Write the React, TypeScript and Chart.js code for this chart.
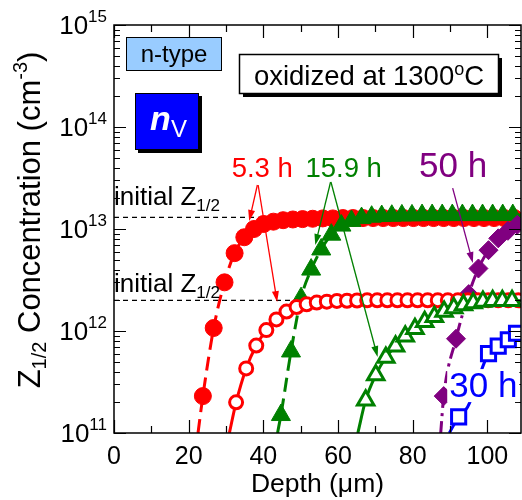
import React, { useEffect, useRef } from "react";
import { Chart, registerables } from "chart.js";

Chart.register(...registerables);

const FONT = '"Liberation Sans", Arial, Helvetica, sans-serif';

// Axis ranges and ticks
const DEPTH_MIN = 0;
const DEPTH_MAX = 109;
const CONC_MIN = 1e11;
const CONC_MAX = 1e15;
const xMajorTicks = [0, 20, 40, 60, 80, 100];
const xMinorTicks = [10, 30, 50, 70, 90];
const yDecadeExponents = [11, 12, 13, 14, 15];

// Initial Z1/2 levels of the two samples
const initialHighConc = 1.3e13;
const initialLowConc = 2.0e12;
const initialHighDepth = [0, 40];
const initialLowDepth = [0, 48];

// 5.3 h, high initial concentration (filled circles)
const h53HighDepth = [23.8, 26.7, 29.6, 32.3, 34.9, 37.5, 40.1, 42.7, 45.3, 47.9, 50.5, 53.2, 55.9, 58.6, 61.3, 64.0, 66.7, 69.4, 72.1, 74.8, 77.5, 80.2, 82.9, 85.6, 88.3, 91.0, 93.7, 96.4, 99.1, 101.8, 104.5, 107.2];
const h53HighConc = [2.3e11, 1.07e12, 3.0e12, 5.8e12, 8.3e12, 1.0e13, 1.12e13, 1.18e13, 1.22e13, 1.24e13, 1.25e13, 1.26e13, 1.27e13, 1.27e13, 1.28e13, 1.28e13, 1.28e13, 1.28e13, 1.28e13, 1.28e13, 1.28e13, 1.28e13, 1.28e13, 1.28e13, 1.28e13, 1.28e13, 1.28e13, 1.28e13, 1.28e13, 1.28e13, 1.28e13, 1.28e13];
const h53HighFitDepth = [22.5, 23.8, 26.7, 29.6, 32.3, 34.9, 37.5, 40.1, 42.7, 45.3, 50.0, 60.0, 80.0, 109.0];
const h53HighFitConc = [1e11, 2.3e11, 1.07e12, 3.0e12, 5.8e12, 8.3e12, 1.0e13, 1.12e13, 1.18e13, 1.22e13, 1.25e13, 1.27e13, 1.28e13, 1.28e13];

// 5.3 h, low initial concentration (open circles)
const h53LowDepth = [32.7, 35.4, 38.1, 40.8, 43.5, 46.2, 48.9, 51.6, 54.3, 57.0, 59.7, 62.4, 65.1, 67.8, 70.5, 73.2, 75.9, 78.6, 81.3, 84.0, 86.7, 89.4, 92.1, 94.8, 97.5, 100.2, 102.9, 105.6, 108.3];
const h53LowConc = [2.0e11, 4.3e11, 7.2e11, 1.02e12, 1.3e12, 1.55e12, 1.72e12, 1.83e12, 1.9e12, 1.94e12, 1.97e12, 1.98e12, 1.99e12, 2.0e12, 2.0e12, 2.0e12, 2.0e12, 2.0e12, 2.0e12, 2.0e12, 2.0e12, 2.0e12, 2.0e12, 2.0e12, 2.0e12, 2.0e12, 2.0e12, 2.0e12, 2.0e12];
const h53LowFitDepth = [30.9, 32.7, 35.4, 38.1, 40.8, 43.5, 46.2, 48.9, 51.6, 54.3, 60.0, 70.0, 109.0];
const h53LowFitConc = [1e11, 2.0e11, 4.3e11, 7.2e11, 1.02e12, 1.3e12, 1.55e12, 1.72e12, 1.83e12, 1.9e12, 1.97e12, 1.99e12, 2.0e12];

// 15.9 h, high initial concentration (filled triangles)
const h159HighDepth = [44.7, 47.4, 50.1, 52.8, 55.5, 58.2, 60.9, 63.6, 66.3, 69.0, 71.7, 74.4, 77.1, 79.8, 82.5, 85.2, 87.9, 90.6, 93.3, 96.0, 98.7, 101.4, 104.1, 106.8];
const h159HighConc = [1.5e11, 6.3e11, 2.1e12, 4.0e12, 6.3e12, 8.8e12, 1.08e13, 1.2e13, 1.28e13, 1.32e13, 1.34e13, 1.35e13, 1.36e13, 1.36e13, 1.37e13, 1.37e13, 1.37e13, 1.37e13, 1.37e13, 1.37e13, 1.37e13, 1.37e13, 1.37e13, 1.37e13];
const h159HighFitDepth = [43.8, 44.7, 47.4, 50.1, 52.8, 55.5, 58.2, 60.9, 63.6, 66.3, 70.0, 80.0, 109.0];
const h159HighFitConc = [1e11, 1.5e11, 6.3e11, 2.1e12, 4.0e12, 6.3e12, 8.8e12, 1.08e13, 1.2e13, 1.28e13, 1.33e13, 1.36e13, 1.37e13];

// 15.9 h, low initial concentration (open triangles)
const h159LowDepth = [67.4, 70.1, 72.8, 75.4, 78.0, 80.6, 83.2, 85.8, 88.4, 91.0, 93.6, 96.2, 98.8, 101.4, 104.0, 106.6];
const h159LowConc = [2.1e11, 3.7e11, 5.5e11, 7.1e11, 8.9e11, 1.05e12, 1.23e12, 1.38e12, 1.55e12, 1.68e12, 1.8e12, 1.88e12, 1.95e12, 1.98e12, 1.98e12, 1.98e12];
const h159LowFitDepth = [65.3, 67.4, 70.1, 72.8, 75.4, 78.0, 80.6, 83.2, 85.8, 88.4, 91.0, 93.6, 96.2, 98.8, 109.0];
const h159LowFitConc = [1e11, 2.1e11, 3.7e11, 5.5e11, 7.1e11, 8.9e11, 1.05e12, 1.23e12, 1.38e12, 1.55e12, 1.68e12, 1.8e12, 1.88e12, 1.95e12, 1.98e12];

// 50 h (filled diamonds)
const h50Depth = [88.3, 91.6, 95.0, 97.6, 100.3, 102.9, 105.5, 108.0];
const h50Conc = [2.3e11, 8.4e11, 2.3e12, 4.1e12, 6.2e12, 8.1e12, 9.6e12, 1.1e13];
const h50FitDepth = [87.5, 88.3, 91.6, 95.0, 97.6, 100.3, 102.9, 105.5, 108.0, 109.0];
const h50FitConc = [1e11, 2.3e11, 8.4e11, 2.3e12, 4.1e12, 6.2e12, 8.1e12, 9.6e12, 1.1e13, 1.13e13];

// 30 h (open squares)
const h30Depth = [92.3, 100.3, 102.9, 105.6, 107.8];
const h30Conc = [1.44e11, 6.0e11, 7.1e11, 8.2e11, 9.5e11];
const h30FitDepth = [89.8, 92.3, 94.7, 100.3, 102.9, 105.6, 107.8, 109.0];
const h30FitConc = [1e11, 1.44e11, 1.8e11, 6.0e11, 7.1e11, 8.2e11, 9.5e11, 1.0e12];

const RED = "#ff0000";
const GREEN = "#008000";
const PURPLE = "#800080";
const BLUE = "#0000ff";

const pts = (xs: number[], ys: number[]) => xs.map((x, i) => ({ x, y: ys[i] }));

type Part = { t: string; size: number; dy?: number; weight?: string; style?: string };

function fontOf(p: Part) {
  return `${p.style || "normal"} ${p.weight || "normal"} ${p.size}px ${FONT}`;
}

function richWidth(ctx: CanvasRenderingContext2D, parts: Part[]) {
  let w = 0;
  for (const p of parts) {
    ctx.font = fontOf(p);
    w += ctx.measureText(p.t).width;
  }
  return w;
}

function drawRich(ctx: CanvasRenderingContext2D, parts: Part[], x: number, y: number, align: "left" | "center" | "right", color: string) {
  const w = richWidth(ctx, parts);
  let cx = align === "left" ? x : align === "center" ? x - w / 2 : x - w;
  ctx.fillStyle = color;
  ctx.textAlign = "left";
  ctx.textBaseline = "alphabetic";
  for (const p of parts) {
    ctx.font = fontOf(p);
    ctx.fillText(p.t, cx, y + (p.dy || 0));
    cx += ctx.measureText(p.t).width;
  }
}

function drawArrow(ctx: CanvasRenderingContext2D, x0: number, y0: number, x1: number, y1: number, color: string) {
  const ang = Math.atan2(y1 - y0, x1 - x0);
  const len = 11;
  const hw = 3.5;
  ctx.strokeStyle = color;
  ctx.fillStyle = color;
  ctx.lineWidth = 1.3;
  ctx.setLineDash([]);
  ctx.beginPath();
  ctx.moveTo(x0, y0);
  ctx.lineTo(x1 - Math.cos(ang) * len * 0.8, y1 - Math.sin(ang) * len * 0.8);
  ctx.stroke();
  ctx.beginPath();
  ctx.moveTo(x1, y1);
  ctx.lineTo(x1 - Math.cos(ang) * len - Math.sin(ang) * hw, y1 - Math.sin(ang) * len + Math.cos(ang) * hw);
  ctx.lineTo(x1 - Math.cos(ang) * len + Math.sin(ang) * hw, y1 - Math.sin(ang) * len - Math.cos(ang) * hw);
  ctx.closePath();
  ctx.fill();
}

const decorations = {
  id: "decorations",
  afterDatasetsDraw(chart: any) {
    const ctx: CanvasRenderingContext2D = chart.ctx;
    const { left, right, top, bottom } = chart.chartArea;
    const xs = chart.scales.x;
    const ys = chart.scales.y;
    const X = (v: number) => xs.getPixelForValue(v);
    const Y = (v: number) => ys.getPixelForValue(v);
    ctx.save();

    // frame
    ctx.strokeStyle = "#000";
    ctx.lineWidth = 1.5;
    ctx.setLineDash([]);
    ctx.strokeRect(left, top, right - left, bottom - top);

    // inward ticks on all four sides
    ctx.lineWidth = 1.2;
    ctx.beginPath();
    for (const v of xMajorTicks) {
      const px = Math.round(X(v)) + 0.5;
      ctx.moveTo(px, bottom); ctx.lineTo(px, bottom - 13);
      ctx.moveTo(px, top); ctx.lineTo(px, top + 13);
    }
    for (const v of xMinorTicks) {
      const px = Math.round(X(v)) + 0.5;
      ctx.moveTo(px, bottom); ctx.lineTo(px, bottom - 7);
      ctx.moveTo(px, top); ctx.lineTo(px, top + 7);
    }
    for (const e of yDecadeExponents) {
      const py = Math.round(Y(Math.pow(10, e))) + 0.5;
      ctx.moveTo(left, py); ctx.lineTo(left + 12, py);
      ctx.moveTo(right, py); ctx.lineTo(right - 12, py);
      if (e < 15) {
        for (let m = 2; m <= 9; m++) {
          const pm = Math.round(Y(m * Math.pow(10, e))) + 0.5;
          ctx.moveTo(left, pm); ctx.lineTo(left + 6, pm);
          ctx.moveTo(right, pm); ctx.lineTo(right - 6, pm);
        }
      }
    }
    ctx.stroke();

    // x tick labels
    ctx.fillStyle = "#000";
    ctx.font = `25px ${FONT}`;
    ctx.textAlign = "center";
    ctx.textBaseline = "alphabetic";
    for (const v of xMajorTicks) ctx.fillText(String(v), X(v), bottom + 31);

    // y tick labels: 10 with exponent
    for (const e of yDecadeExponents) {
      const py = Y(Math.pow(10, e));
      drawRich(ctx, [{ t: "10", size: 26 }, { t: String(e), size: 17, dy: -12 }], left - 7, py + 9, "right", "#000");
    }

    // axis titles
    drawRich(ctx, [{ t: "Depth (\u03bcm)", size: 26.5 }], (left + right) / 2, bottom + 59, "center", "#000");
    ctx.save();
    ctx.translate(40, (top + bottom) / 2 - 9);
    ctx.rotate(-Math.PI / 2);
    drawRich(ctx, [
      { t: "Z", size: 31 },
      { t: "1/2", size: 20, dy: 6 },
      { t: " Concentration (cm", size: 31 },
      { t: "-3", size: 20, dy: -13 },
      { t: ")", size: 31 },
    ], 0, 0, "center", "#000");
    ctx.restore();

    // initial level labels
    drawRich(ctx, [{ t: "initial Z", size: 26 }, { t: "1/2", size: 17, dy: 6 }], left, Y(initialHighConc) - 12, "left", "#000");
    drawRich(ctx, [{ t: "initial Z", size: 26 }, { t: "1/2", size: 17, dy: 6 }], left, Y(initialLowConc) - 8, "left", "#000");

    // annealing-time labels
    drawRich(ctx, [{ t: "5.3 h", size: 27.5 }], X(39.7), Y(3.25e13), "center", RED);
    drawRich(ctx, [{ t: "15.9 h", size: 27.5 }], X(61.5), Y(3.25e13), "center", GREEN);
    drawRich(ctx, [{ t: "50 h", size: 35 }], X(90.8), Y(3.25e13), "center", PURPLE);
    const lx = X(98.9);
    const ly = Y(2.25e11);
    ctx.font = `35px ${FONT}`;
    const w30 = ctx.measureText("30 h").width;
    ctx.fillStyle = "#fff";
    ctx.fillRect(lx - w30 / 2 - 2, ly - 28, w30 + 4, 33);
    drawRich(ctx, [{ t: "30 h", size: 35 }], lx, ly, "center", BLUE);

    // arrows
    drawArrow(ctx, X(38.4), Y(2.7e13), X(36.2), Y(1.2e13), RED);
    drawArrow(ctx, X(38.6), Y(2.7e13), X(43.7), Y(1.92e12), RED);
    drawArrow(ctx, X(58.0), Y(2.89e13), X(53.9), Y(6.97e12), GREEN);
    drawArrow(ctx, X(58.1), Y(2.89e13), X(70.6), Y(5.56e11), GREEN);
    drawArrow(ctx, X(90.7), Y(2.52e13), X(96.1), Y(4.65e12), PURPLE);

    // "n-type" box
    ctx.fillStyle = "#99ccff";
    ctx.fillRect(126, 37, 96, 34);
    ctx.strokeStyle = "#000";
    ctx.lineWidth = 1;
    ctx.strokeRect(126.5, 37.5, 95, 33);
    drawRich(ctx, [{ t: "n-type", size: 24 }], 174, 62, "center", "#000");

    // n_V box with shadow
    ctx.fillStyle = "#000";
    ctx.fillRect(138, 96, 64, 57);
    ctx.fillStyle = "#0000ff";
    ctx.fillRect(135, 93, 64, 57);
    ctx.strokeStyle = "#000";
    ctx.strokeRect(135.5, 93.5, 63, 56);
    drawRich(ctx, [{ t: "n", size: 34, weight: "bold", style: "italic" }], 150, 130, "left", "#fff");
    drawRich(ctx, [{ t: "V", size: 24 }], 171, 137, "left", "#fff");

    // oxidation condition box with shadow
    ctx.fillStyle = "#000";
    ctx.fillRect(243, 58, 259, 39);
    ctx.fillStyle = "#fff";
    ctx.fillRect(239.5, 54.5, 259, 39);
    ctx.lineWidth = 1.5;
    ctx.strokeRect(239.5, 54.5, 259, 39);
    drawRich(ctx, [
      { t: "oxidized at 1300", size: 27.5 },
      { t: "o", size: 18, dy: -10 },
      { t: "C", size: 27.5 },
    ], 369, 85, "center", "#000");

    ctx.restore();
  },
};

export default function App() {
  const ref = useRef<HTMLCanvasElement | null>(null);

  useEffect(() => {
    if (!ref.current) return;
    const line = (xs: number[], ys: number[], color: string, dash: number[]) => ({
      type: "line" as const,
      data: pts(xs, ys),
      borderColor: color,
      borderWidth: 3,
      borderDash: dash,
      pointRadius: 0,
      showLine: true,
      fill: false,
      cubicInterpolationMode: "monotone" as const,
    });
    const marks = (xs: number[], ys: number[], color: string, style: string, radius: number, open: boolean) => ({
      type: "scatter" as const,
      data: pts(xs, ys),
      showLine: false,
      pointStyle: style,
      pointRadius: radius,
      pointBorderWidth: open ? 3 : 1,
      pointBorderColor: color,
      pointBackgroundColor: open ? "#ffffff" : color,
      borderColor: color,
      backgroundColor: open ? "#ffffff" : color,
    });

    const chart = new Chart(ref.current, {
      type: "scatter",
      data: {
        datasets: [
          marks(h159LowDepth, h159LowConc, GREEN, "triangle", 9.5, true),
          line(h159LowFitDepth, h159LowFitConc, GREEN, []),
          marks(h53LowDepth, h53LowConc, RED, "circle", 6.5, true),
          line(h53LowFitDepth, h53LowFitConc, RED, []),
          marks(h30Depth, h30Conc, BLUE, "rect", 10, true),
          line(h30FitDepth, h30FitConc, BLUE, []),
          marks(h50Depth, h50Conc, PURPLE, "rectRot", 9.5, false),
          line(h50FitDepth, h50FitConc, PURPLE, [12, 5, 3, 5]),
          marks(h159HighDepth, h159HighConc, GREEN, "triangle", 11, false),
          line(h159HighFitDepth, h159HighFitConc, GREEN, [14, 7]),
          marks(h53HighDepth, h53HighConc, RED, "circle", 8.5, false),
          line(h53HighFitDepth, h53HighFitConc, RED, [14, 7]),
          {
            type: "line" as const,
            data: initialHighDepth.map((x) => ({ x, y: initialHighConc })),
            borderColor: "#000",
            borderWidth: 1.3,
            borderDash: [5, 4],
            pointRadius: 0,
            showLine: true,
          },
          {
            type: "line" as const,
            data: initialLowDepth.map((x) => ({ x, y: initialLowConc })),
            borderColor: "#000",
            borderWidth: 1.3,
            borderDash: [5, 4],
            pointRadius: 0,
            showLine: true,
          },
        ] as any,
      },
      options: {
        animation: false,
        responsive: false,
        devicePixelRatio: 1,
        layout: { autoPadding: false, padding: { left: 114, right: 1, top: 25, bottom: 67 } },
        plugins: { legend: { display: false }, tooltip: { enabled: false } },
        scales: {
          x: { type: "linear", min: DEPTH_MIN, max: DEPTH_MAX, display: false },
          y: { type: "logarithmic", min: CONC_MIN, max: CONC_MAX, display: false },
        },
      },
      plugins: [decorations],
    });
    return () => chart.destroy();
  }, []);

  return (
    <div style={{ position: "absolute", left: 0, top: 0, width: 522, height: 500, background: "#fff" }}>
      <canvas ref={ref} width={522} height={500} />
    </div>
  );
}
